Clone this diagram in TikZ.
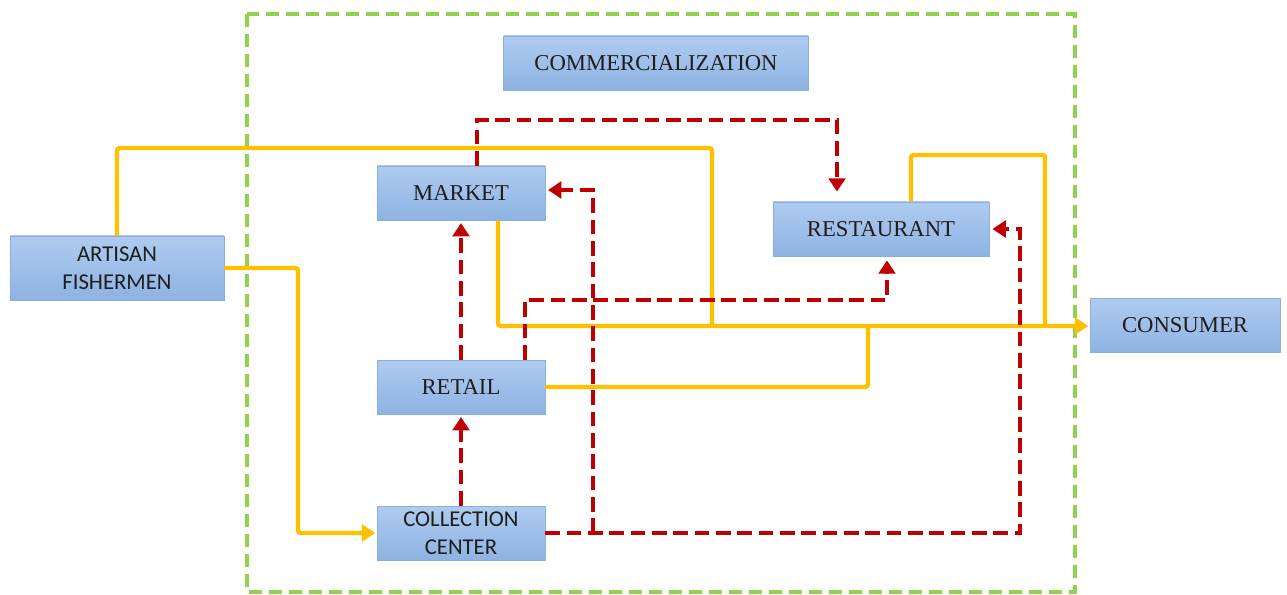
\documentclass[tikz,border=0pt]{standalone}
\usepackage{fontspec}
\setmainfont{Liberation Serif}
\newfontfamily\calfont{Carlito}
\usetikzlibrary{arrows.meta,calc}
\definecolor{yel}{HTML}{FFC000}
\definecolor{redd}{HTML}{C00000}
\definecolor{grn}{HTML}{92D050}
\definecolor{boxtop}{HTML}{AFCBEF}
\definecolor{boxbot}{HTML}{8DB3E3}
\definecolor{boxline}{HTML}{8CB0DE}
\definecolor{txt}{HTML}{1E1E1E}
\tikzset{
  box/.style={draw=boxline, line width=0.6pt, top color=boxtop, bottom color=boxbot,
    minimum height=40.5pt, inner sep=0pt, text=txt, font=\fontsize{17}{20}\selectfont},
  sbox/.style={box, align=center, font=\calfont\fontsize{17}{21}\selectfont},
  yline/.style={draw=yel, line width=3.3pt, rounded corners=2pt},
  rline/.style={draw=redd, line width=3.6pt, dash pattern=on 11pt off 5pt},
  tip/.style={-{Triangle[length=10pt,width=12.5pt]}},
  frame/.style={draw=grn, line width=2.6pt, dash pattern=on 10pt off 5pt}
}
\begin{document}
\begin{tikzpicture}[x=0.75pt,y=-0.75pt]
\useasboundingbox (0,0) rectangle (1287,595);
\draw[frame] (247,14) rectangle (1075,592);

\node[box, minimum width=229pt] (comm) at (656,63) {COMMERCIALIZATION};
\node[box, minimum width=126pt] (market) at (461,193) {MARKET};
\node[box, minimum width=162pt] (rest) at (881,229) {RESTAURANT};
\node[box, minimum width=142.5pt] (cons) at (1185,325) {CONSUMER};
\node[box, minimum width=126pt] (retail) at (461,387) {RETAIL};
\node[sbox, minimum width=126pt] (coll) at (461,533) {COLLECTION\\CENTER};
\node[sbox, minimum width=160.5pt, minimum height=48pt] (art) at (117,268) {ARTISAN\\FISHERMEN};

% yellow flows
\coordinate (ya) at (712,148);
\coordinate (yj1) at (712,326);
\coordinate (yb) at (298,533);
\coordinate (yj2) at (868,326);
\coordinate (yc) at (1045,155);
\coordinate (yj3) at (1045,326);
\coordinate (mkB) at ($(market.south)+(37,0)$);
\coordinate (csW) at ($(cons.west)+(0,1)$);
\coordinate (rsT) at ($(rest.north)+(30,0)$);
\draw[yline] (art.north) |- (ya) -- (yj1);
\draw[yline, tip, shorten >=1pt] (art.east) -| (yb) -- (coll.west);
\draw[yline, tip, shorten >=1pt] (mkB) |- (csW);
\draw[yline] (retail.east) -| (yj2);
\draw[yline] (rsT) |- (yc) -- (yj3);

% red flows
\coordinate (mkT) at ($(market.north)+(16,0)$);
\coordinate (ra) at (837,120);
\coordinate (raE) at ($(rest.north)+(-44,-10)$);
\draw[rline, tip] (mkT) |- (ra) -- (raE);

\coordinate (rb) at (1020,229);
\coordinate (rbE) at ($(rest.east)+(3,0)$);
\draw[rline, tip] (coll.east) -| (rb) -- (rbE);

\coordinate (rc0) at (593,533);
\coordinate (rc1) at (593,190);
\coordinate (rcE) at (548,190);
\draw[rline, tip] (rc0) -- (rc1) -- (rcE);

\draw[rline, tip, shorten >=2pt] (coll.north) -- (retail.south);
\draw[rline, tip, shorten >=2pt] (retail.north) -- (market.south);

\coordinate (rtT) at ($(retail.north)+(64,0)$);
\coordinate (rd) at (887,300);
\coordinate (rdE) at ($(rest.south)+(6,4)$);
\draw[rline, tip] (rtT) |- (rd) -- (rdE);
\end{tikzpicture}
\end{document}
